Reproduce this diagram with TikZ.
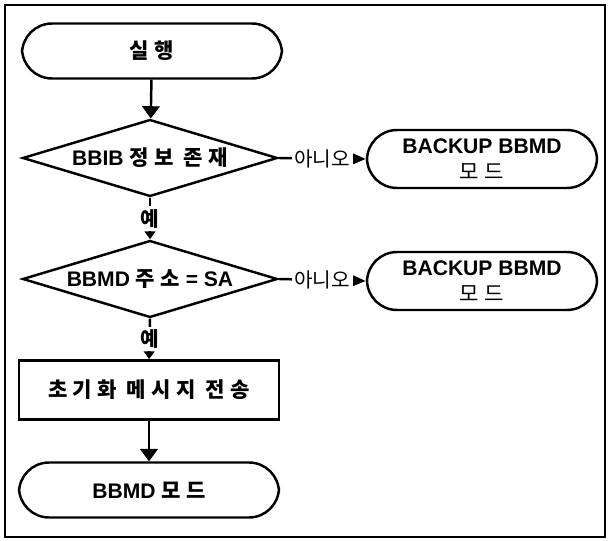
\documentclass[tikz,border=0pt]{standalone}
\usepackage{fontspec}
\setmainfont{Liberation Sans}
\newfontfamily\kr{Noto Sans CJK KR}[LetterSpace=25]
\newfontfamily\krno{Noto Sans CJK KR}
\newcommand{\ko}[1]{{\kr #1}}
\usetikzlibrary{shapes.geometric,arrows.meta}

\begin{document}
\begin{tikzpicture}[x=0.02cm, y=-0.02cm, line width=1.4pt,
    font=\fontsize{12}{15}\selectfont\bfseries,
    term/.style = {draw, rounded corners=0.6cm, minimum width=5.2cm, minimum height=1.1cm},
    test/.style = {draw, diamond, aspect=3.4, inner sep=0pt, minimum width=5.1cm, minimum height=1.54cm},
    proc/.style = {draw, minimum width=5.2cm, minimum height=1.18cm},
    backup/.style = {draw, rounded corners=0.6cm, minimum width=4.6cm, minimum height=1.16cm, align=center},
    down/.style = {-{Triangle[length=7pt, width=10pt]}},
    yes/.style = {-{Triangle[length=4.5pt, width=6pt]}},
    no/.style = {-{Triangle[length=7.5pt, width=6pt]}},
    ans/.style = {fill=white, inner sep=1.5pt, font=\fontsize{11.5}{13}\selectfont}]
    \useasboundingbox (0,0) rectangle (610,541);
    \draw[line width=0.6pt] (5,5) rectangle (605,537);
    \node[term] (1) at (152,51) {\ko{실행}};
    \node[test] (2) at (150,158) {BBIB \ko{정보 존재}};
    \node[backup] (3) at (482,159) {BACKUP BBMD\\\ko{\mdseries 모드}};
    \node[test] (4) at (150,279) {BBMD \ko{주소} = SA};
    \node[backup] (5) at (482,281) {BACKUP BBMD\\\ko{\mdseries 모드}};
    \node[proc] (6) at (149,390) {\ko{초기화 메시지 전송}};
    \node[term] (7) at (149,490) {BBMD \ko{모드}};
    \draw[down] (1) -- (2);
    \draw[no] (2.east) -- node[ans] {\krno 아니오} (3.west);
    \draw[yes] (2.south) -- node[ans] {\krno\bfseries 예} (4.north);
    \draw[no] (4.east) -- node[ans] {\krno 아니오} (5.west);
    \draw[yes] (4.south) -- node[ans] {\krno\bfseries 예} (6.north);
    \draw[down] (6) -- (7);
\end{tikzpicture}
\end{document}
